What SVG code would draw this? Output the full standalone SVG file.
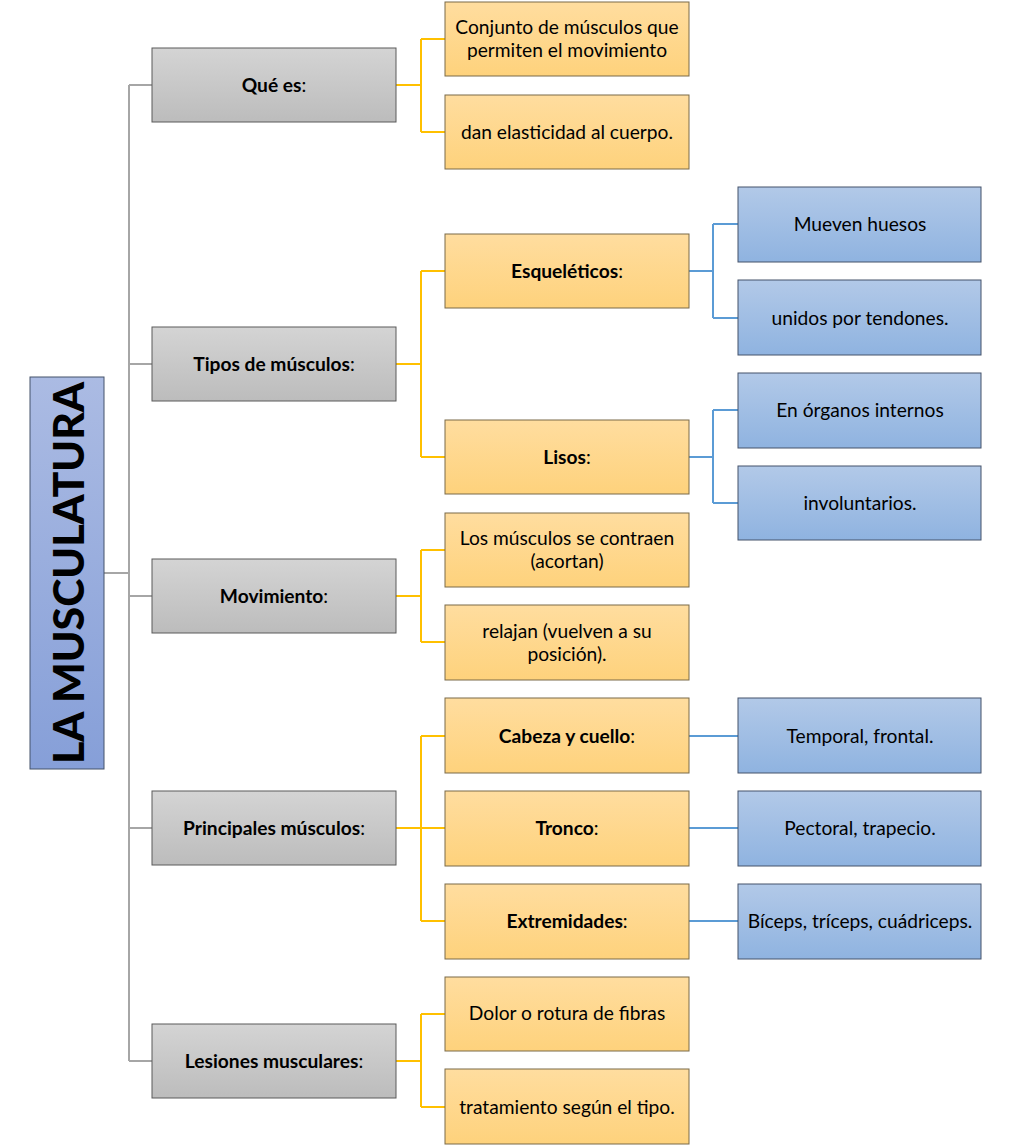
<svg xmlns="http://www.w3.org/2000/svg" width="1012" height="1147" viewBox="0 0 1012 1147">
<defs>
<linearGradient id="gGray" x1="0" y1="0" x2="0" y2="1"><stop offset="0" stop-color="#d4d4d4"/><stop offset="1" stop-color="#bcbcbc"/></linearGradient>
<linearGradient id="gOr" x1="0" y1="0" x2="0" y2="1"><stop offset="0" stop-color="#ffdd9f"/><stop offset="1" stop-color="#fed27c"/></linearGradient>
<linearGradient id="gBl" x1="0" y1="0" x2="0" y2="1"><stop offset="0" stop-color="#b2c9e8"/><stop offset="1" stop-color="#8fb3e0"/></linearGradient>
<linearGradient id="gRoot" x1="0" y1="0" x2="0" y2="1"><stop offset="0" stop-color="#abbbe3"/><stop offset="1" stop-color="#869fd8"/></linearGradient>
</defs>
<style>
text{font-family:Lato,"Liberation Sans",sans-serif;font-size:19.2px;fill:#000;text-anchor:middle;dominant-baseline:central}
.b{font-weight:bold}
.n{font-weight:normal}
.gray{fill:url(#gGray);stroke:#5a5a5a;stroke-width:1}
.or{fill:url(#gOr);stroke:#7a6a48;stroke-width:1}
.bl{fill:url(#gBl);stroke:#45526a;stroke-width:1}
.root{fill:url(#gRoot);stroke:#45526a;stroke-width:1}
.cg{fill:none;stroke:#a6a6a6;stroke-width:2}
.co{fill:none;stroke:#ffc000;stroke-width:2}
.cb{fill:none;stroke:#5b9bd5;stroke-width:2}
</style>
<rect width="1012" height="1147" fill="#fff"/>
<g id="connectors">
<path class="cg" d="M104,573H129M129,85V1061M129,85H152M129,364H152M129,596H152M129,828H152M129,1061H152"/>
<path class="co" d="M396,85H421M421,39V132M421,39H445M421,132H445"/>
<path class="co" d="M396,364H421M421,271V457M421,271H445M421,457H445"/>
<path class="co" d="M396,596H421M421,550V642M421,550H445M421,642H445"/>
<path class="co" d="M396,828H421M421,736V921M421,736H445M421,828H445M421,921H445"/>
<path class="co" d="M396,1061H421M421,1014V1107M421,1014H445M421,1107H445"/>
<path class="cb" d="M689,271H713M713,224V318M713,224H738M713,318H738"/>
<path class="cb" d="M689,457H713M713,410V503M713,410H738M713,503H738"/>
<path class="cb" d="M689,736H738M689,828H738M689,921H738"/>
</g>
<g id="root"><rect class="root" x="30" y="377" width="74" height="392"/><text class="b" transform="translate(68,573) rotate(-90)" style="font-size:42px;font-weight:900" textLength="382" lengthAdjust="spacingAndGlyphs">LA MUSCULATURA</text></g>
<g id="que-es"><rect class="gray" x="152" y="48" width="244" height="74"/><text x="274" y="84"><tspan class="b">Qué es</tspan><tspan class="n">:</tspan></text></g>
<g id="tipos"><rect class="gray" x="152" y="327" width="244" height="74"/><text x="274" y="363"><tspan class="b">Tipos de músculos</tspan><tspan class="n">:</tspan></text></g>
<g id="movimiento"><rect class="gray" x="152" y="559" width="244" height="74"/><text x="274" y="595"><tspan class="b">Movimiento</tspan><tspan class="n">:</tspan></text></g>
<g id="principales"><rect class="gray" x="152" y="791" width="244" height="74"/><text x="274" y="827"><tspan class="b">Principales músculos</tspan><tspan class="n">:</tspan></text></g>
<g id="lesiones"><rect class="gray" x="152" y="1024" width="244" height="74"/><text x="274" y="1060"><tspan class="b">Lesiones musculares</tspan><tspan class="n">:</tspan></text></g>
<g id="conjunto"><rect class="or" x="445" y="2" width="244" height="74"/><text x="567" y="26">Conjunto de músculos que</text><text x="567" y="49">permiten el movimiento</text></g>
<g id="dan"><rect class="or" x="445" y="95" width="244" height="74"/><text x="567" y="131">dan elasticidad al cuerpo.</text></g>
<g id="esqueleticos"><rect class="or" x="445" y="234" width="244" height="74"/><text x="567" y="270"><tspan class="b">Esqueléticos</tspan><tspan class="n">:</tspan></text></g>
<g id="lisos"><rect class="or" x="445" y="420" width="244" height="74"/><text x="567" y="456"><tspan class="b">Lisos</tspan><tspan class="n">:</tspan></text></g>
<g id="contraen"><rect class="or" x="445" y="513" width="244" height="74"/><text x="567" y="537">Los músculos se contraen</text><text x="567" y="560">(acortan)</text></g>
<g id="relajan"><rect class="or" x="445" y="605" width="244" height="75"/><text x="567" y="630">relajan (vuelven a su</text><text x="567" y="653">posición).</text></g>
<g id="cabeza"><rect class="or" x="445" y="698" width="244" height="75"/><text x="567" y="735"><tspan class="b">Cabeza y cuello</tspan><tspan class="n">:</tspan></text></g>
<g id="tronco"><rect class="or" x="445" y="791" width="244" height="75"/><text x="567" y="827"><tspan class="b">Tronco</tspan><tspan class="n">:</tspan></text></g>
<g id="extremidades"><rect class="or" x="445" y="884" width="244" height="75"/><text x="567" y="920"><tspan class="b">Extremidades</tspan><tspan class="n">:</tspan></text></g>
<g id="dolor"><rect class="or" x="445" y="977" width="244" height="74"/><text x="567" y="1012">Dolor o rotura de fibras</text></g>
<g id="tratamiento"><rect class="or" x="445" y="1069" width="244" height="75"/><text x="567" y="1106">tratamiento según el tipo.</text></g>
<g id="mueven"><rect class="bl" x="738" y="187" width="243" height="75"/><text x="860" y="223">Mueven huesos</text></g>
<g id="unidos"><rect class="bl" x="738" y="280" width="243" height="75"/><text x="860" y="317">unidos por tendones.</text></g>
<g id="organos"><rect class="bl" x="738" y="373" width="243" height="75"/><text x="860" y="409">En órganos internos</text></g>
<g id="involuntarios"><rect class="bl" x="738" y="466" width="243" height="74"/><text x="860" y="502">involuntarios.</text></g>
<g id="temporal"><rect class="bl" x="738" y="698" width="243" height="75"/><text x="860" y="735">Temporal, frontal.</text></g>
<g id="pectoral"><rect class="bl" x="738" y="791" width="243" height="75"/><text x="860" y="827">Pectoral, trapecio.</text></g>
<g id="biceps"><rect class="bl" x="738" y="884" width="243" height="75"/><text x="860" y="920">Bíceps, tríceps, cuádriceps.</text></g>
</svg>
